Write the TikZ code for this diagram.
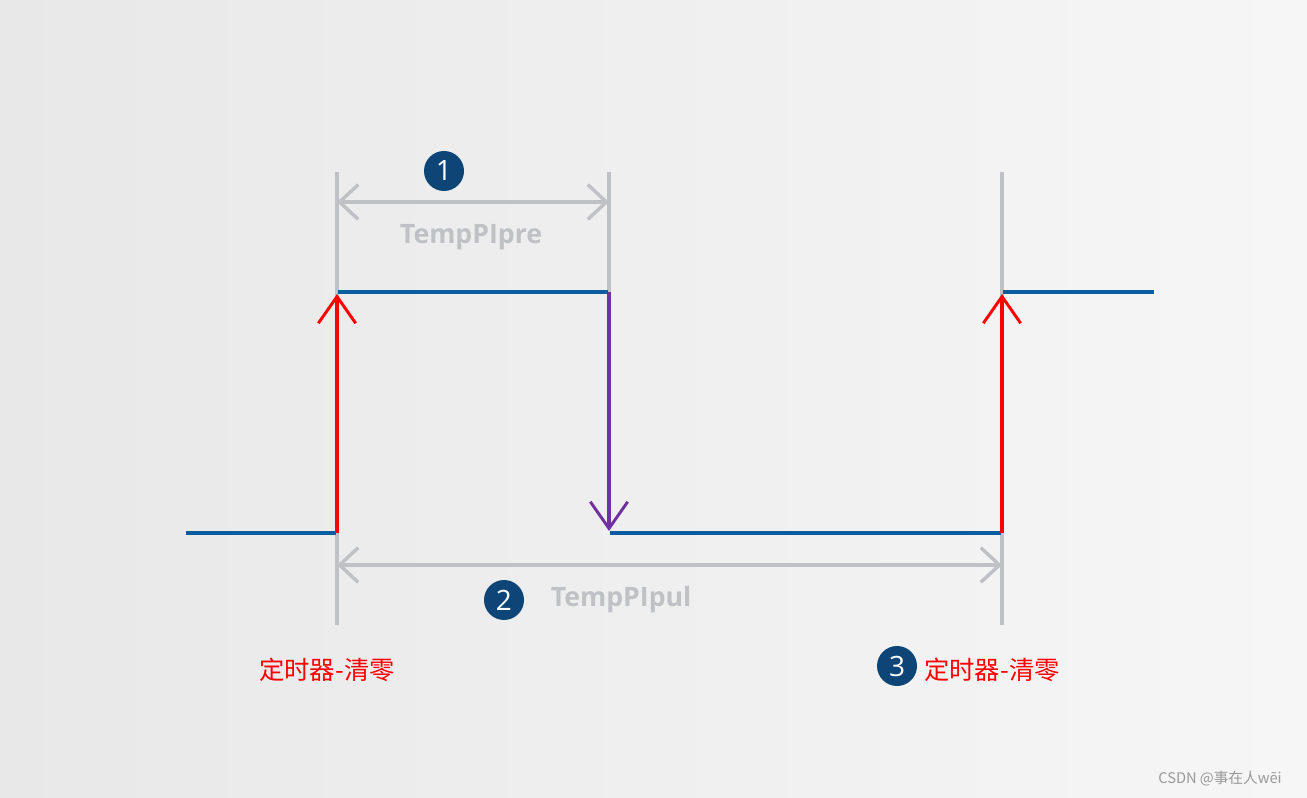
\documentclass[tikz,border=0pt]{standalone}
\usepackage{fontspec}
\setmainfont{Open Sans}
\newfontfamily\cjk{Noto Sans CJK SC}
\usetikzlibrary{arrows.meta}
\definecolor{sig}{HTML}{0B5CA0}
\definecolor{dim}{HTML}{BFC1C5}
\definecolor{num}{HTML}{0D4577}
\definecolor{pur}{HTML}{7030A0}
\tikzset{
  sigline/.style={sig, line width=2.4pt},
  edge/.style={line width=2.4pt, -{Straight Barb[length=20pt,width=28pt,line width=2.2pt]}},
  dimline/.style={dim, line width=2.6pt},
  dimarrow/.style={dim, line width=2.6pt, {Straight Barb[length=14pt,width=26pt]}-{Straight Barb[length=14pt,width=26pt]}},
  numc/.style={circle, fill=num, text=white, minimum size=30pt, inner sep=0pt, font=\fontsize{21}{21}\selectfont},
  lab/.style={text=dim, font=\bfseries\fontsize{20}{20}\selectfont},
  redtxt/.style={text=red, font=\cjk\fontsize{19}{19}\selectfont}
}
\begin{document}
\begin{tikzpicture}[x=0.75pt,y=-0.75pt]
\shade[left color=gray!18, right color=gray!7] (0,0) rectangle (1307,798);
\useasboundingbox (0,0) rectangle (1307,798);
\coordinate (a0) at (186,533); \coordinate (a1) at (336,533);
\coordinate (b0) at (338,292); \coordinate (b1) at (608,292);
\coordinate (c0) at (610,533); \coordinate (c1) at (1001,533);
\coordinate (d0) at (1003,292); \coordinate (d1) at (1154,292);
\coordinate (g1t) at (337,172); \coordinate (g1b) at (337,625);
\coordinate (g2t) at (609,172); \coordinate (g2b) at (609,292);
\coordinate (g3t) at (1002,172); \coordinate (g3b) at (1002,625);
\draw[dimline] (g1t) -- (g1b);
\draw[dimline] (g2t) -- (g2b);
\draw[dimline] (g3t) -- (g3b);
\coordinate (p1) at (337,202); \coordinate (p2) at (609,202);
\coordinate (q1) at (337,565); \coordinate (q2) at (1002,565);
\draw[dimarrow] (p1) -- (p2);
\draw[dimarrow] (q1) -- (q2);
\draw[sigline] (a0) -- (a1);
\draw[sigline] (b0) -- (b1);
\draw[sigline] (c0) -- (c1);
\draw[sigline] (d0) -- (d1);
\coordinate (r1b) at (337,533); \coordinate (r1t) at (337,294);
\coordinate (r2b) at (1002,533); \coordinate (r2t) at (1002,294);
\coordinate (pt) at (609,292); \coordinate (pb) at (609,531);
\draw[edge, red] (r1b) -- (r1t);
\draw[edge, red] (r2b) -- (r2t);
\draw[edge, pur] (pt) -- (pb);
\node[lab] (l1) at (471,237) {TempPIpre};
\node[lab] (l2) at (621,600) {TempPIpul};
\node[numc] (n1) at (444,171) {1};
\node[numc] (n2) at (504,600) {2};
\node[numc] (n3) at (897,666) {3};
\node[redtxt] (t1) at (327,670) {定时器-清零};
\node[redtxt] (t2) at (992,670) {定时器-清零};
\node[text=gray!80, font=\cjk\fontsize{11}{11}\selectfont] (wm) at (1220,779) {CSDN @事在人wēi};
\end{tikzpicture}
\end{document}
